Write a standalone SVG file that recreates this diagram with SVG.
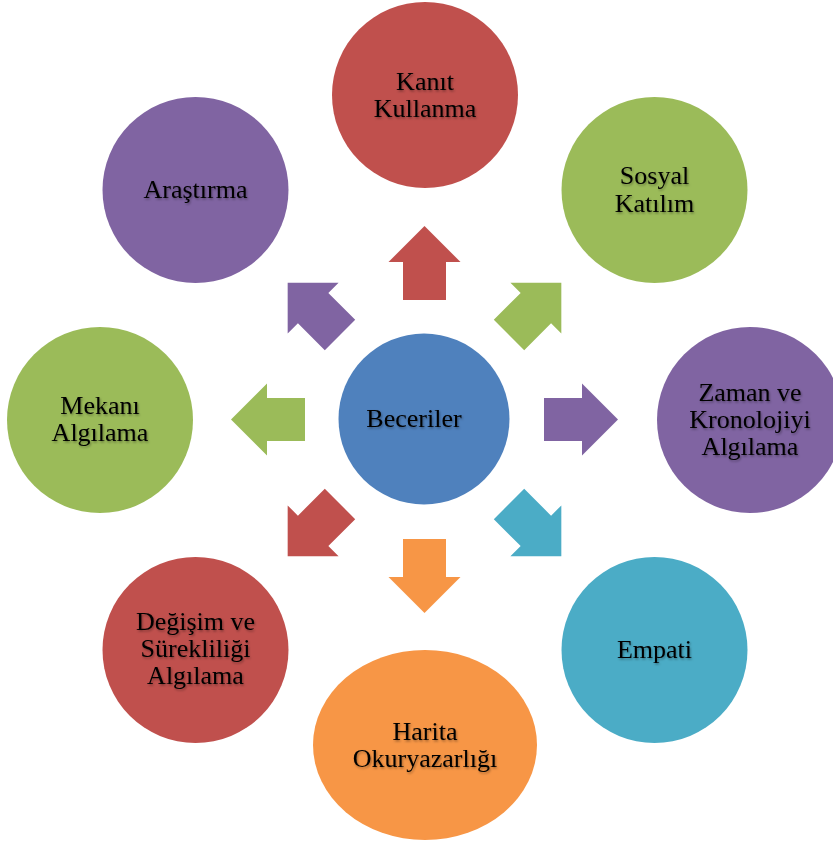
<svg xmlns="http://www.w3.org/2000/svg" width="833" height="843" viewBox="0 0 833 843">
  <defs>
    <style>
      .lbl { font-family: "Liberation Serif", "Times New Roman", serif; font-size: 26px; fill: #000; text-anchor: middle; filter: url(#tshadow); }
      .red { fill: #C0504D; }
      .green { fill: #9BBB59; }
      .purple { fill: #8064A2; }
      .blue { fill: #4F81BD; }
      .teal { fill: #4BACC6; }
      .orange { fill: #F79646; }
    </style>
    <filter id="tshadow" x="-10%" y="-30%" width="120%" height="160%">
      <feDropShadow dx="1" dy="1.5" stdDeviation="1.2" flood-color="#000" flood-opacity="0.35"/>
    </filter>
    <path id="arr" d="M119.5,-21.5 H157.5 V-36 L193.5,0 L157.5,36 V21.5 H119.5 Z"/>
  </defs>
  <rect width="833" height="843" fill="#FFFFFF"/>

  <g id="connectors">
    <use href="#arr" class="red" transform="translate(424.5,419.5) rotate(-90)"/>
    <use href="#arr" class="green" transform="translate(424.5,419.5) rotate(-45)"/>
    <use href="#arr" class="purple" transform="translate(424.5,419.5) rotate(0)"/>
    <use href="#arr" class="teal" transform="translate(424.5,419.5) rotate(45)"/>
    <use href="#arr" class="orange" transform="translate(424.5,419.5) rotate(90)"/>
    <use href="#arr" class="red" transform="translate(424.5,419.5) rotate(135)"/>
    <use href="#arr" class="green" transform="translate(424.5,419.5) rotate(180)"/>
    <use href="#arr" class="purple" transform="translate(424.5,419.5) rotate(225)"/>
  </g>

  <g id="node-beceriler">
    <circle cx="424" cy="419" r="85.5" class="blue"/>
    <text class="lbl" x="414" y="427">Beceriler</text>
  </g>

  <g id="node-kanit">
    <circle cx="425" cy="95" r="93" class="red"/>
    <text class="lbl" x="425" y="90">Kanıt</text>
    <text class="lbl" x="425" y="117">Kullanma</text>
  </g>

  <g id="node-sosyal">
    <circle cx="654.5" cy="190" r="93" class="green"/>
    <text class="lbl" x="654.5" y="184">Sosyal</text>
    <text class="lbl" x="654.5" y="212">Katılım</text>
  </g>

  <g id="node-zaman">
    <circle cx="750" cy="420" r="93" class="purple"/>
    <text class="lbl" x="750" y="401">Zaman ve</text>
    <text class="lbl" x="750" y="428">Kronolojiyi</text>
    <text class="lbl" x="750" y="455">Algılama</text>
  </g>

  <g id="node-empati">
    <circle cx="654.5" cy="650" r="93" class="teal"/>
    <text class="lbl" x="654.5" y="658">Empati</text>
  </g>

  <g id="node-harita">
    <ellipse cx="425" cy="745" rx="112" ry="95" class="orange"/>
    <text class="lbl" x="425" y="740">Harita</text>
    <text class="lbl" x="425" y="767">Okuryazarlığı</text>
  </g>

  <g id="node-degisim">
    <circle cx="195.5" cy="650" r="93" class="red"/>
    <text class="lbl" x="195.5" y="630">Değişim ve</text>
    <text class="lbl" x="195.5" y="657">Sürekliliği</text>
    <text class="lbl" x="195.5" y="684">Algılama</text>
  </g>

  <g id="node-mekani">
    <circle cx="100" cy="420" r="93" class="green"/>
    <text class="lbl" x="100" y="414">Mekanı</text>
    <text class="lbl" x="100" y="441">Algılama</text>
  </g>

  <g id="node-arastirma">
    <circle cx="195.5" cy="190" r="93" class="purple"/>
    <text class="lbl" x="195.5" y="198">Araştırma</text>
  </g>
</svg>
